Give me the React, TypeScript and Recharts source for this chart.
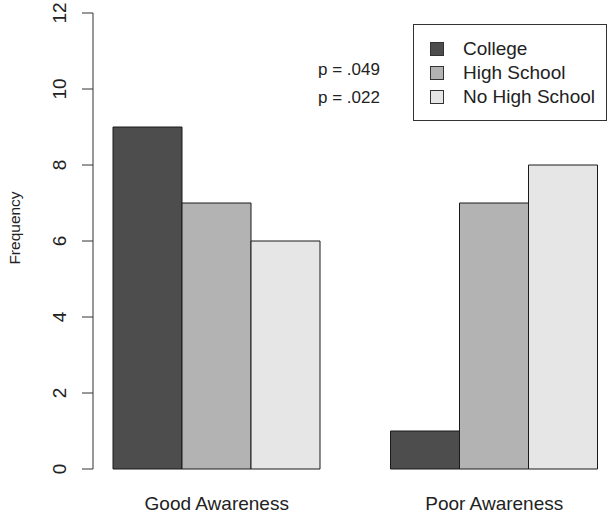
import { BarChart, Bar, XAxis, YAxis, Legend, Label } from 'recharts'

const groups = ['Good Awareness', 'Poor Awareness']
const college = [9, 1]
const highSchool = [7, 7]
const noHighSchool = [6, 8]
const yTicks = [0, 2, 4, 6, 8, 10, 12]
const pValues = ['p = .049', 'p = .022']

const SERIES = [
  { key: 'college', name: 'College', fill: '#4d4d4d' },
  { key: 'highSchool', name: 'High School', fill: '#b3b3b3' },
  { key: 'noHighSchool', name: 'No High School', fill: '#e6e6e6' },
]

const data = groups.map((g, i) => ({
  group: g,
  college: college[i],
  highSchool: highSchool[i],
  noHighSchool: noHighSchool[i],
}))

const FONT = '"Liberation Sans", Arial, Helvetica, sans-serif'
const INK = '#222'

function YTick({ x, y, payload }: any) {
  const bx = x - 14
  return (
    <text x={bx} y={y} transform={`rotate(-90, ${bx}, ${y})`} textAnchor="middle" fontSize={19} fill={INK} fontFamily={FONT}>
      {payload.value}
    </text>
  )
}

function FrequencyLabel({ viewBox }: any) {
  const x = viewBox.x + 20
  const y = viewBox.y + viewBox.height / 2 - 13
  return (
    <text x={x} y={y} transform={`rotate(-90, ${x}, ${y})`} textAnchor="middle" fontSize={15.5} fill={INK} fontFamily={FONT}>
      Frequency
    </text>
  )
}

function LegendBox({ payload }: any) {
  return (
    <div style={{ boxSizing: 'border-box', width: 194, height: 97, border: '1px solid #333', paddingTop: 12, background: '#fff' }}>
      {(payload || []).map((p: any) => (
        <div key={p.value} style={{ display: 'flex', alignItems: 'center', height: 24 }}>
          <span style={{ boxSizing: 'border-box', marginLeft: 16, width: 14, height: 14, background: p.color, border: '1px solid #333' }} />
          <span style={{ marginLeft: 19, fontSize: 19, color: INK, fontFamily: FONT }}>{p.value}</span>
        </div>
      ))}
    </div>
  )
}

export default function App() {
  return (
    <div style={{ position: 'absolute', left: 0, top: 0, width: 609, height: 514, background: '#fff' }}>
      <BarChart
        width={609}
        height={514}
        data={data}
        margin={{ top: 13, right: 11, left: 0, bottom: 0 }}
        barCategoryGap={35}
        barGap={0}
      >
        <XAxis
          dataKey="group"
          axisLine={false}
          tickLine={false}
          tickSize={0}
          tickMargin={28}
          height={45}
          padding={{ left: -15, right: -35 }}
          tick={{ fontSize: 19, fill: INK, fontFamily: FONT }}
        />
        <YAxis
          width={93}
          domain={[0, 12]}
          ticks={yTicks}
          tickSize={11}
          axisLine={{ stroke: '#333' }}
          tickLine={{ stroke: '#333' }}
          tick={<YTick />}
        >
          <Label content={<FrequencyLabel />} />
        </YAxis>
        <Legend
          layout="vertical"
          align="center"
          verticalAlign="middle"
          content={<LegendBox />}
          wrapperStyle={{ position: 'absolute', left: 413, top: 24, width: 194, height: 97 }}
        />
        {SERIES.map((s) => (
          <Bar key={s.key} dataKey={s.key} name={s.name} fill={s.fill} stroke="#1a1a1a" strokeWidth={1} isAnimationActive={false} />
        ))}
      </BarChart>
      <div style={{ position: 'absolute', left: 299, top: 56, width: 100, textAlign: 'center', fontFamily: FONT, fontSize: 17, lineHeight: '28px', color: INK }}>
        {pValues.map((p) => (
          <div key={p}>{p}</div>
        ))}
      </div>
    </div>
  )
}
